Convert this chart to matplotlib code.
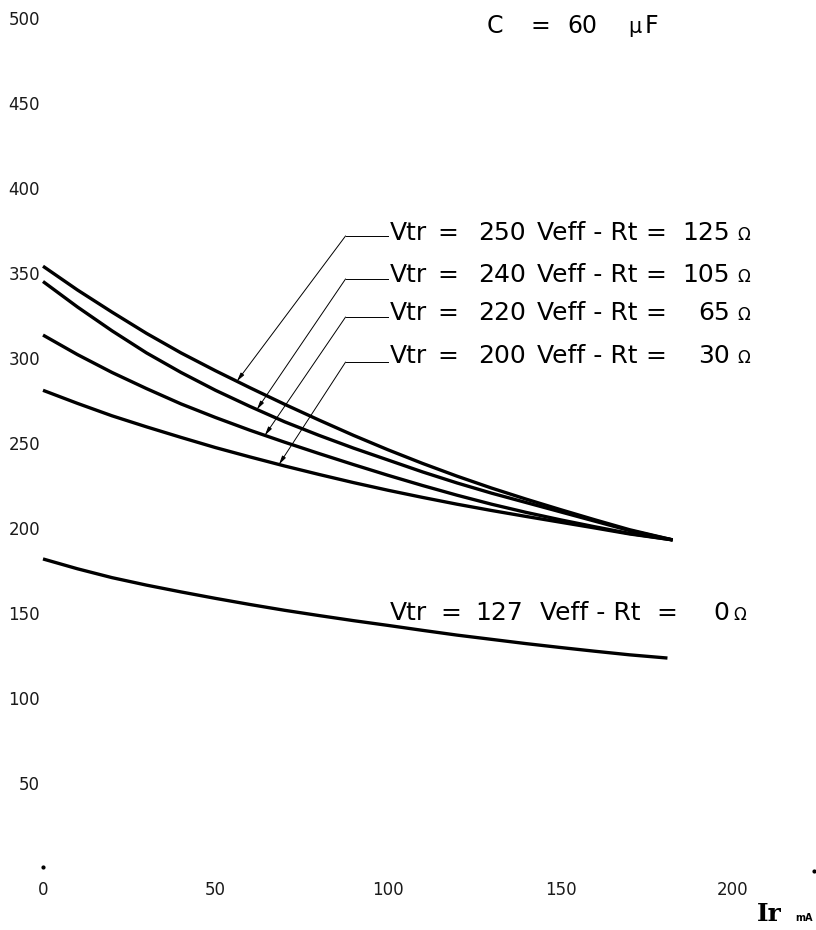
import numpy as np
import matplotlib
matplotlib.use('Agg')
import matplotlib.pyplot as plt

# curves: Ir (mA) -> voltage
ir = [0, 10, 20, 30, 40, 50, 60, 70, 80, 90, 100, 110, 120, 130, 140, 150, 160, 170, 182.5]
v_250 = [354, 340, 327, 314.5, 303, 292.5, 282.5, 272.8, 263.5, 254.5, 246, 238, 230.5, 223.5, 217, 210.8, 204.8, 199, 193]
v_240 = [345, 330, 316, 303, 291.5, 281, 271.5, 262.5, 254.5, 247, 240, 233, 226.5, 220.5, 215, 209.5, 204, 198.5, 193]
v_220 = [313.5, 302, 291.5, 282, 273, 265, 257.5, 250.5, 243.8, 237.3, 231, 225, 219.3, 214, 209.2, 204.8, 200.7, 196.8, 193]
v_200 = [281, 273.3, 266, 259.5, 253.3, 247.3, 241.8, 236.5, 231.5, 226.7, 222.2, 218, 214, 210.3, 206.8, 203.4, 200, 196.5, 193]
ir_127 = [0, 10, 20, 30, 40, 50, 60, 70, 80, 90, 100, 110, 120, 130, 140, 150, 160, 170, 181]
v_127 = [181.8, 176, 170.8, 166.4, 162.4, 158.6, 155, 151.6, 148.5, 145.5, 142.7, 139.8, 137, 134.5, 132, 129.7, 127.5, 125.4, 123.5]

xticks = [0, 50, 100, 150, 200]
yticks = [50, 100, 150, 200, 250, 300, 350, 400, 450, 500]

vtr = ['250', '240', '220', '200']
rt = ['125', '105', '65', '30']
curves = [v_250, v_240, v_220, v_200]
arrow_x = [56.2, 62.0, 64.3, 68.4]        # where each leader touches its curve
corner_y = [371.8, 346.5, 324.1, 297.6]   # leader elbow height
text_y = [369.4, 344.7, 322.4, 297.1]     # label baselines

fig = plt.figure(figsize=(8.16, 9.30), dpi=100)
ax = fig.add_axes([43/816, 62/930, 690/816, 850/930])
ax.set_xlim(0, 200)
ax.set_ylim(0, 500)
for s in ax.spines.values():
    s.set_visible(False)
ax.set_xticks(xticks)
ax.set_yticks(yticks)
ax.set_xticklabels([str(t) for t in xticks])
ax.set_yticklabels([str(t) for t in yticks])
ax.tick_params(axis='both', length=0, labelsize=12, labelcolor='#1a1a1a')
ax.tick_params(axis='x', pad=9)
ax.tick_params(axis='y', pad=2)

for c in curves:
    ax.plot(ir, c, color='black', lw=2.4, solid_capstyle='butt', clip_on=False)
ax.plot(ir_127, v_127, color='black', lw=2.4, solid_capstyle='butt', clip_on=False)

fs = 18
def label_row(y, v, r, xs):
    # xs: Vtr, '=', value, Veff-Rt, '=', ohms (right edge), omega
    ax.text(xs[0], y, 'Vtr', fontsize=fs, va='baseline', ha='left')
    ax.text(xs[1], y, '=', fontsize=fs, va='baseline', ha='left')
    ax.text(xs[2], y, v, fontsize=fs, va='baseline', ha='left')
    ax.text(xs[3], y, 'Veff - Rt', fontsize=fs, va='baseline', ha='left')
    ax.text(xs[4], y, '=', fontsize=fs, va='baseline', ha='left')
    ax.text(xs[5], y, r, fontsize=fs, va='baseline', ha='right')
    ax.text(xs[6], y, 'Ω', fontsize=12, va='baseline', ha='left')

# leaders + labels
for i in range(4):
    tip_y = np.interp(arrow_x[i], ir, curves[i])
    ax.plot([87.7, 100.0], [corner_y[i], corner_y[i]], color='black', lw=0.7)
    ax.annotate('', xy=(arrow_x[i], tip_y), xytext=(87.7, corner_y[i]),
                arrowprops=dict(arrowstyle='-|>,head_length=0.5,head_width=0.12',
                                color='black', lw=0.7, shrinkA=0, shrinkB=0))
    label_row(text_y[i], vtr[i], rt[i], [100.6, 114.2, 126.1, 143.2, 174.5, 199.1, 201.2])

label_row(145.9, '127', '0', [100.6, 115.1, 125.2, 144.1, 177.8, 198.8, 200.0])

ax.text(128.7, 491.2, 'C', fontsize=17, va='baseline', ha='left')
ax.text(141.2, 491.2, '=', fontsize=17, va='baseline', ha='left')
ax.text(151.9, 491.2, '60', fontsize=17, va='baseline', ha='left')
ax.text(169.6, 491.2, 'μ', fontsize=15, va='baseline', ha='left')
ax.text(174.3, 491.2, 'F', fontsize=17, va='baseline', ha='left')

# axis name and the two little dots on the baseline
ax.text(207.0, -31, 'Ir', fontsize=18, fontweight='bold', family='DejaVu Serif',
        va='baseline', ha='left')
ax.text(218.0, -31, 'mA', fontsize=7, fontweight='bold', va='baseline', ha='left')
ax.plot([0, 223.5], [0.5, -1.8], 'k.', ms=4, clip_on=False)

plt.savefig('out.png', dpi=100)
